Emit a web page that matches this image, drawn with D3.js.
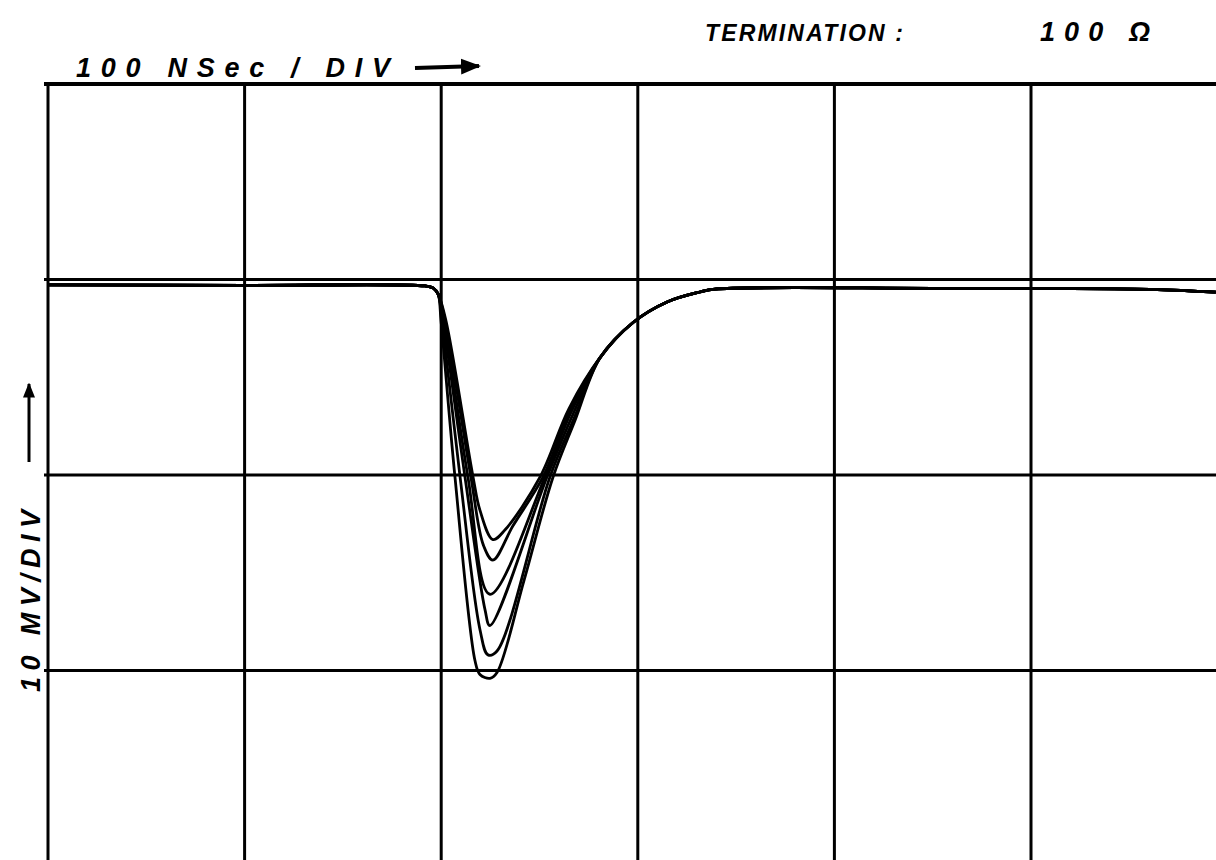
<!DOCTYPE html>
<html>
<head>
<meta charset="utf-8">
<script src="https://cdn.jsdelivr.net/npm/d3@7"></script>
<style>
  body { margin: 0; background: #fff; }
  .label { font-family: 'Liberation Sans', sans-serif; font-style: italic; font-weight: bold; fill: #000; }
</style>
</head>
<body>
<div id="chart"></div>
<script>
// scope grid: 100 ns/div across, 10 mV/div up
let gridTimes = [0, 100, 200, 300, 400, 500]
let gridVolts = [10, 0, -10, -20, -30]

// [ns, mV]
let leadIn = [[0, -0.28], [100, -0.3], [191.8, -0.33], [195.8, -0.43], [198.4, -0.74]]
let tailOut = [[280.8, -4.0], [297.6, -2.2], [314.9, -1.15], [331.6, -0.64], [339.3, -0.49], [450, -0.45], [560.5, -0.5], [594, -0.65]]

let pulse1 = [[202.4, -2.1], [216.2, -10.1], [219.7, -11.8], [226.3, -13.3], [232.5, -12.8], [250.3, -10.1], [265.0, -6.6]]
let pulse2 = [[201.9, -2.1], [215.1, -10.1], [221.5, -13.6], [226.3, -14.35], [236.5, -12.6], [251.8, -10.1], [265.5, -6.7]]
let pulse3 = [[201.4, -2.1], [213.6, -10.1], [224.8, -16.1], [252.8, -10.1], [266.0, -6.8]]
let pulse4 = [[200.9, -2.1], [212.1, -10.1], [222.3, -16.9], [224.8, -17.7], [253.8, -10.1], [267.0, -6.9]]
let pulse5 = [[200.4, -2.1], [209.6, -10.1], [219.7, -17.9], [223.8, -19.2], [228.4, -19.0], [255.3, -10.1], [268.0, -7.0]]
let pulse6 = [[199.9, -2.1], [207.0, -10.1], [217.2, -19.5], [219.7, -20.2], [224.8, -20.4], [228.4, -20.1], [242.1, -15.4], [256.9, -10.1], [268.1, -7.2]]

let width = 1216,
  height = 860

let svg = d3.select('#chart')
  .append('svg')
  .attr('width', width)
  .attr('height', height)

let x = d3.scaleLinear().domain([0, 500]).range([48, 1031])
let y = d3.scaleLinear().domain([10, -30]).range([84, 866])

// grid
svg.selectAll('.vgrid')
  .data(gridTimes)
  .enter()
  .append('line')
  .attr('class', 'vgrid')
  .attr('x1', d => x(d)).attr('x2', d => x(d))
  .attr('y1', y(10) - 1).attr('y2', height)
  .attr('stroke', '#000').attr('stroke-width', 3)

svg.selectAll('.hgrid')
  .data(gridVolts)
  .enter()
  .append('line')
  .attr('class', 'hgrid')
  .attr('x1', x(0) - 4).attr('x2', width)
  .attr('y1', d => y(d)).attr('y2', d => y(d))
  .attr('stroke', '#000').attr('stroke-width', d => d === 10 ? 4 : 3)

// traces
let traces = [pulse1, pulse2, pulse3, pulse4, pulse5, pulse6].map(p => leadIn.concat(p, tailOut))

let line = d3.line()
  .x(d => x(d[0]))
  .y(d => y(d[1]))
  .curve(d3.curveCatmullRom.alpha(0.5))

svg.selectAll('.trace')
  .data(traces)
  .enter()
  .append('path')
  .attr('class', 'trace')
  .attr('d', line)
  .attr('fill', 'none')
  .attr('stroke', '#000')
  .attr('stroke-width', 2.8)
  .attr('stroke-linejoin', 'round')

// arrow heads
svg.append('defs').append('marker')
  .attr('id', 'head')
  .attr('viewBox', '0 0 10 10')
  .attr('refX', 9).attr('refY', 5)
  .attr('markerWidth', 5).attr('markerHeight', 5)
  .attr('markerUnits', 'strokeWidth')
  .attr('orient', 'auto')
  .append('path')
  .attr('d', 'M0,1 L10,5 L0,9 Z')
  .attr('fill', '#000')

// labels
svg.append('text')
  .attr('class', 'label')
  .attr('x', 76).attr('y', 77)
  .attr('font-size', 27)
  .attr('textLength', 314)
  .attr('lengthAdjust', 'spacing')
  .text('100  NSec / DIV')

svg.append('line')
  .attr('x1', 415).attr('x2', 479)
  .attr('y1', 68).attr('y2', 66)
  .attr('stroke', '#000').attr('stroke-width', 4)
  .attr('marker-end', 'url(#head)')

svg.append('text')
  .attr('class', 'label')
  .attr('x', 705).attr('y', 41)
  .attr('font-size', 23)
  .attr('textLength', 198)
  .attr('lengthAdjust', 'spacing')
  .text('TERMINATION :')

svg.append('text')
  .attr('class', 'label')
  .attr('x', 1040).attr('y', 41)
  .attr('font-size', 27)
  .attr('textLength', 110)
  .attr('lengthAdjust', 'spacing')
  .text('100  Ω')

svg.append('text')
  .attr('class', 'label')
  .attr('transform', 'translate(40,692) rotate(-90)')
  .attr('font-size', 27)
  .attr('textLength', 182)
  .attr('lengthAdjust', 'spacing')
  .text('10  MV/DIV')

svg.append('line')
  .attr('x1', 29).attr('x2', 29)
  .attr('y1', 462).attr('y2', 384)
  .attr('stroke', '#000').attr('stroke-width', 3)
  .attr('marker-end', 'url(#head)')
</script>
</body>
</html>
